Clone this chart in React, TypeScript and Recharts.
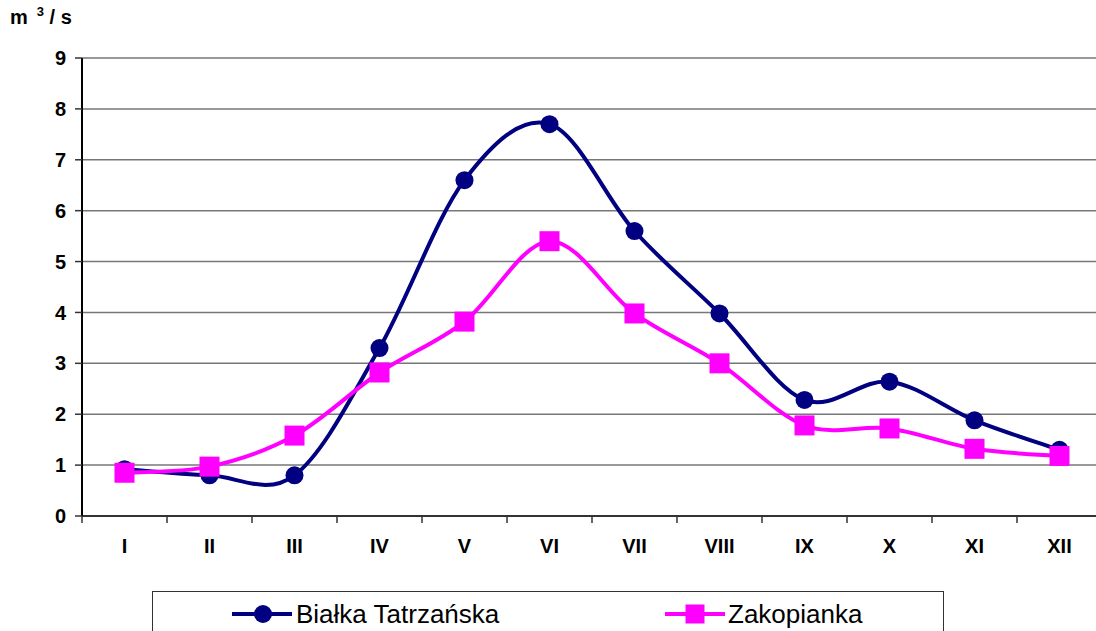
import React from "react";
import { LineChart, Line, XAxis, YAxis, CartesianGrid, Legend } from "recharts";

// miesiące (oś X)
const months = ["I", "II", "III", "IV", "V", "VI", "VII", "VIII", "IX", "X", "XI", "XII"];
// przepływy średnie, m3/s
const bialka = [0.92, 0.8, 0.8, 3.3, 6.6, 7.7, 5.6, 3.98, 2.28, 2.64, 1.88, 1.3];
const zakopianka = [0.85, 0.97, 1.58, 2.82, 3.82, 5.4, 3.98, 3.0, 1.78, 1.72, 1.32, 1.18];
const yTicks = [0, 1, 2, 3, 4, 5, 6, 7, 8, 9];

const NAVY = "#000080";
const PINK = "#FF00FF";
const FONT = '"Liberation Sans", Arial, sans-serif';

const data = months.map((m, i) => ({ month: m, bialka: bialka[i], zakopianka: zakopianka[i] }));

// wygładzenie jak w Excelu (Catmull-Rom)
const smooth = (context: any) => {
  let pts: number[][] = [];
  return {
    areaStart() {},
    areaEnd() {},
    lineStart() {
      pts = [];
    },
    point(x: number, y: number) {
      pts.push([+x, +y]);
    },
    lineEnd() {
      if (!pts.length) return;
      context.moveTo(pts[0][0], pts[0][1]);
      for (let i = 0; i < pts.length - 1; i++) {
        const p0 = pts[i - 1] || pts[i];
        const p1 = pts[i];
        const p2 = pts[i + 1];
        const p3 = pts[i + 2] || p2;
        context.bezierCurveTo(
          p1[0] + (p2[0] - p0[0]) / 6,
          p1[1] + (p2[1] - p0[1]) / 6,
          p2[0] - (p3[0] - p1[0]) / 6,
          p2[1] - (p3[1] - p1[1]) / 6,
          p2[0],
          p2[1]
        );
      }
    },
  };
};

const MonthTick = (props: any) => {
  const { x, y, payload } = props;
  const half = payload.offset || 42.5;
  const axisY = y - 16 - 7;
  return (
    <g>
      <line x1={x - half} x2={x - half} y1={axisY} y2={axisY + 7} stroke="#333" strokeWidth={1.5} />
      <text x={x} y={y} dy="0.71em" textAnchor="middle" fontFamily={FONT} fontWeight="bold" fontSize={20} fill="#000">
        {payload.value}
      </text>
    </g>
  );
};

const Circle = (props: any) => <circle key={props.index} cx={props.cx} cy={props.cy} r={9} fill={NAVY} />;
const Square = (props: any) => (
  <rect key={props.index} x={props.cx - 10} y={props.cy - 10} width={20} height={20} fill={PINK} />
);

const renderLegend = () => (
  <div
    style={{
      position: "relative",
      width: "100%",
      height: "100%",
      border: "1.5px solid #333",
      boxSizing: "border-box",
      background: "#fff",
      fontFamily: FONT,
      fontSize: 26,
      lineHeight: "26px",
    }}
  >
    <svg style={{ position: "absolute", left: 78, top: 11 }} width={62} height={22}>
      <line x1={1} x2={61} y1={11} y2={11} stroke={NAVY} strokeWidth={4} />
      <circle cx={32} cy={11} r={9} fill={NAVY} />
    </svg>
    <span style={{ position: "absolute", left: 143, top: 9, whiteSpace: "nowrap" }}>Białka Tatrzańska</span>
    <svg style={{ position: "absolute", left: 511, top: 11 }} width={62} height={22}>
      <line x1={1} x2={61} y1={11} y2={11} stroke={PINK} strokeWidth={4} />
      <rect x={21.5} y={1.5} width={19} height={19} fill={PINK} />
    </svg>
    <span style={{ position: "absolute", left: 575, top: 9, whiteSpace: "nowrap" }}>Zakopianka</span>
  </div>
);

export default function App() {
  return (
    <div style={{ position: "absolute", left: 0, top: 0, width: 1096, height: 631, overflow: "hidden" }}>
      <div
        style={{
          position: "absolute",
          left: 10,
          top: 4,
          zIndex: 2,
          fontFamily: FONT,
          fontWeight: "bold",
          fontSize: 20,
          lineHeight: "26px",
          whiteSpace: "pre",
        }}
      >
        m<span style={{ fontSize: 13, position: "relative", top: -8, marginLeft: 9 }}>3</span> / s
      </div>
      <div style={{ position: "absolute", left: 8, top: 8 }}>
        <LineChart width={1110} height={623} data={data} margin={{ top: 50, right: 16, left: 0, bottom: 55 }}>
          <CartesianGrid horizontal vertical={false} stroke="#777" strokeWidth={1.5} />
          <XAxis
            dataKey="month"
            scale="band"
            height={60}
            tickSize={7}
            tickMargin={16}
            tickLine={false}
            interval={0}
            tick={<MonthTick />}
            axisLine={{ stroke: "#333", strokeWidth: 2 }}
          />
          <YAxis
            width={74}
            domain={[0, 9]}
            ticks={yTicks}
            interval={0}
            tickSize={7}
            tickMargin={9}
            tick={{ fontFamily: FONT, fontWeight: "bold", fontSize: 20, fill: "#000" }}
            tickLine={{ stroke: "#333", strokeWidth: 1.5 }}
            axisLine={{ stroke: "#000", strokeWidth: 2 }}
          />
          <Legend
            verticalAlign="middle"
            layout="horizontal"
            content={renderLegend}
            wrapperStyle={{ position: "absolute", left: 144, top: 583, width: 792, height: 60 }}
          />
          <Line
            dataKey="bialka"
            name="Białka Tatrzańska"
            type={smooth as any}
            stroke={NAVY}
            strokeWidth={4}
            dot={Circle}
            activeDot={false}
            isAnimationActive={false}
          />
          <Line
            dataKey="zakopianka"
            name="Zakopianka"
            type={smooth as any}
            stroke={PINK}
            strokeWidth={4}
            dot={Square}
            activeDot={false}
            isAnimationActive={false}
          />
        </LineChart>
      </div>
    </div>
  );
}
